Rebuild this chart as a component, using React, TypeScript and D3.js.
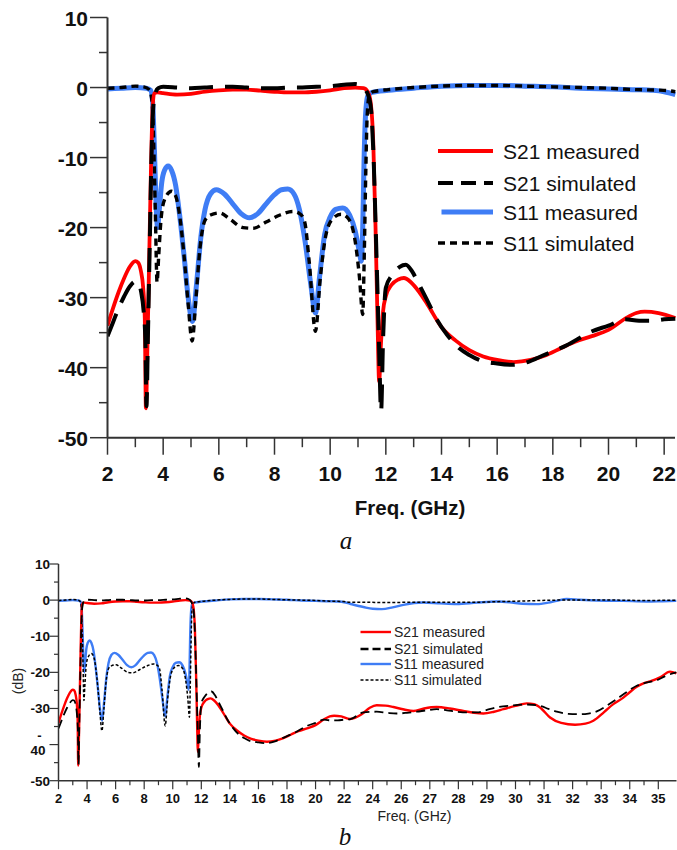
import React from "react";
import * as d3 from "d3";

type P = [number, number];

// ---------- Data (x in GHz / axis units, y in dB) ----------
const s21Measured: P[] = [[2.0,-34.0],[2.2,-31.5],[2.4,-29.2],[2.6,-27.2],[2.8,-25.6],[3.0,-24.8],[3.1,-25.0],[3.2,-26.2],[3.28,-28.5],[3.34,-33],[3.38,-45.8],[3.44,-36],[3.5,-24],[3.56,-12],[3.62,-3],[3.68,-0.8],[3.8,-0.7],[4.0,-0.8],[4.5,-1.0],[5.0,-0.9],[5.5,-0.6],[6.0,-0.4],[6.5,-0.3],[7.0,-0.3],[7.5,-0.45],[8.0,-0.6],[8.5,-0.7],[9.0,-0.7],[9.5,-0.6],[10.0,-0.4],[10.5,-0.1],[10.9,0.0],[11.2,-0.1],[11.35,-0.6],[11.45,-2],[11.55,-8],[11.63,-20],[11.7,-33],[11.76,-42],[11.82,-37],[11.9,-32],[12.0,-29.8],[12.2,-28.2],[12.45,-27.4],[12.65,-27.2],[12.9,-27.8],[13.2,-29.2],[13.5,-31],[14.0,-34.2],[14.5,-36.1],[15.0,-37.5],[15.5,-38.4],[16.0,-38.9],[16.6,-39.2],[17.2,-38.9],[17.7,-38.3],[18.3,-37.2],[18.8,-36.3],[19.4,-35.5],[20.0,-34.6],[20.6,-33.0],[21.0,-32.2],[21.3,-32.0],[21.8,-32.2],[22.4,-32.9]];
const s21MeasuredExt: P[] = [[23.23,-31.6],[23.8,-29.8],[24.28,-29.1],[24.9,-29.2],[25.45,-29.6],[26.2,-30.3],[26.85,-30.7],[27.6,-30.0],[28.48,-29.6],[29.4,-30.0],[30.35,-30.7],[31.1,-31.2],[31.75,-31.4],[32.5,-30.9],[33.15,-30.2],[34.0,-29.3],[34.79,-28.6],[35.3,-28.8],[35.8,-30.0],[36.42,-32.5],[37.2,-34.0],[38.17,-34.5],[38.9,-34.2],[39.45,-33.4],[40.2,-31.0],[40.85,-28.8],[41.55,-27.0],[42.0,-25.5],[42.49,-24.0],[43.0,-23.0],[43.42,-22.5],[44.12,-21.4],[44.82,-19.8],[45.26,-20.3]];

const s21Simulated: P[] = [[2.0,-35.5],[2.2,-33.5],[2.4,-31.5],[2.6,-29.8],[2.8,-28.4],[3.0,-27.7],[3.1,-27.8],[3.2,-29],[3.3,-32],[3.36,-36],[3.4,-45.5],[3.45,-36],[3.52,-22],[3.58,-10],[3.64,-3],[3.72,-0.8],[3.82,-0.1],[4.0,0.1],[4.5,0.0],[5.0,-0.1],[5.5,0.0],[6.0,0.1],[6.5,0.1],[7.0,0.0],[7.5,-0.1],[8.0,-0.1],[8.5,0.0],[9.0,0.0],[9.5,0.1],[10.0,0.2],[10.5,0.4],[10.9,0.5],[11.1,0.3],[11.3,-0.5],[11.45,-2.5],[11.55,-9],[11.65,-22],[11.75,-36],[11.83,-46.2],[11.9,-36],[12.0,-28.6],[12.24,-26.7],[12.5,-25.6],[12.72,-25.3],[12.95,-26.3],[13.14,-27.7],[13.5,-30.5],[13.8,-32.9],[14.2,-35.3],[14.63,-37.2],[15.0,-38.2],[15.35,-38.9],[16.0,-39.4],[16.55,-39.6],[17.1,-39.2],[17.62,-38.3],[18.5,-36.8],[19.41,-34.8],[20.0,-34.0],[20.6,-33.1],[21.1,-33.3],[21.56,-33.3],[22.0,-33.1],[22.4,-33.0]];
const s21SimulatedExt: P[] = [[23.35,-31.1],[24.28,-30.9],[25.0,-31.2],[25.68,-31.4],[26.4,-31.2],[27.08,-30.9],[27.8,-30.5],[28.48,-30.2],[29.2,-30.5],[29.88,-30.9],[30.6,-31.1],[31.28,-31.1],[32.0,-30.4],[32.68,-29.7],[33.7,-29.2],[34.79,-28.9],[35.72,-29.3],[36.3,-30.1],[36.89,-30.9],[37.7,-31.5],[38.52,-31.6],[39.1,-31.4],[39.69,-30.8],[40.4,-29.2],[41.09,-27.4],[41.8,-25.4],[42.49,-23.7],[43.2,-22.8],[43.89,-22.2],[44.5,-21.0],[45.26,-20.0]];

const s11Measured: P[] = [[2.0,-0.2],[2.5,-0.1],[3.0,0.0],[3.4,-0.1],[3.55,-0.4],[3.62,-2],[3.68,-8],[3.74,-16],[3.8,-20],[3.86,-17.5],[3.95,-13.5],[4.05,-11.8],[4.18,-11.2],[4.3,-11.8],[4.45,-14],[4.6,-18.5],[4.75,-24],[4.9,-30],[5.05,-33.4],[5.2,-28],[5.35,-21.5],[5.5,-17.5],[5.7,-15.2],[5.91,-14.6],[6.2,-15.2],[6.5,-16.6],[6.8,-18],[7.1,-18.6],[7.4,-18],[7.7,-16.6],[8.0,-15.3],[8.25,-14.6],[8.48,-14.5],[8.7,-15.2],[8.9,-17.5],[9.1,-22],[9.3,-28],[9.47,-32.2],[9.62,-27],[9.8,-21],[10.0,-18.5],[10.2,-17.4],[10.45,-17.2],[10.7,-18.2],[10.9,-20.5],[11.05,-23.5],[11.12,-24.8],[11.17,-20],[11.22,-10],[11.27,-4],[11.35,-1.2],[11.5,-0.7],[12.1,-0.4],[13.0,-0.1],[14.0,0.2],[15.0,0.3],[16.0,0.3],[17.0,0.2],[18.0,0.1],[19.0,-0.1],[20.0,-0.2],[21.0,-0.3],[21.6,-0.4],[22.0,-0.6],[22.4,-1.0]];
const s11MeasuredExt: P[] = [[23.35,-1.9],[24.0,-2.4],[24.63,-2.5],[25.4,-2.0],[26.15,-1.3],[26.9,-0.8],[27.55,-0.65],[28.7,-0.9],[29.88,-1.1],[31.3,-0.7],[32.68,-0.4],[33.6,-0.6],[34.5,-1.0],[35.49,-1.1],[36.3,-0.7],[36.89,-0.2],[37.59,0.3],[38.5,0.1],[39.69,-0.1],[41.5,-0.2],[43.2,-0.4],[44.3,-0.3],[45.26,-0.2]];

const s11Simulated: P[] = [[2.0,-0.1],[2.5,0.0],[3.0,0.2],[3.3,0.1],[3.5,-0.3],[3.6,-2],[3.66,-8],[3.72,-18],[3.78,-27.8],[3.84,-24],[3.92,-19],[4.05,-16],[4.3,-14.8],[4.45,-15.5],[4.6,-18.5],[4.75,-24],[4.9,-31],[5.04,-36.2],[5.18,-30],[5.32,-23],[5.5,-19],[5.7,-18.2],[6.03,-17.9],[6.4,-18.8],[6.87,-20.0],[7.23,-20.1],[7.7,-19.2],[8.2,-18.2],[8.66,-17.7],[8.9,-18.0],[9.08,-19.1],[9.25,-25],[9.47,-34.8],[9.65,-27],[9.85,-21],[10.1,-18.7],[10.39,-18.1],[10.65,-18.7],[10.9,-22],[11.05,-27],[11.17,-32.4],[11.22,-25],[11.28,-12],[11.33,-4],[11.4,-1.2],[11.55,-0.6],[12.1,-0.3],[13.0,0.0],[14.0,0.2],[15.0,0.3],[16.0,0.3],[17.0,0.2],[18.0,0.1],[19.0,0.0],[20.0,-0.1],[21.0,-0.3],[22.0,-0.4],[22.4,-0.6]];
const s11SimulatedExt: P[] = [[23.0,-0.6],[25.0,-0.65],[27.0,-0.6],[29.0,-0.6],[31.0,-0.6],[33.0,-0.4],[35.0,-0.2],[37.0,0.0],[39.0,0.0],[41.0,0.0],[43.0,-0.1],[45.26,0.0]];

const seriesNames = ["S21 measured", "S21 simulated", "S11 measured", "S11 simulated"];

const topXTicks = [2, 4, 6, 8, 10, 12, 14, 16, 18, 20, 22];
const topYTicks = [10, 0, -10, -20, -30, -40, -50];
const botXLabels = ["2","4","6","8","10","12","14","16","18","20","22","24","26","27","28","29","30","31","32","33","34","35"];
const botYLabels = ["10", "0", "-10", "-20", "-30", "-40", "-50"];

// ---------- Scales ----------
const topX = d3.scaleLinear().domain([2, 22.4]).range([107.5, 675.3]);
const topY = d3.scaleLinear().domain([-50, 10]).range([437.7, 17.5]);
const botX = d3.scaleLinear().domain([2, 45.26]).range([58.5, 676.3]);
const botY = d3.scaleLinear().domain([-50, 10]).range([780.7, 564]);

const RED = "#ff0000";
const BLUE = "#3f7df5";
const AX = "#333";
const FONT = "'Liberation Sans', Arial, sans-serif";

function mkLine(xs: d3.ScaleLinear<number, number>, ys: d3.ScaleLinear<number, number>) {
  return d3.line<P>().x(d => xs(d[0])).y(d => ys(d[1])).curve(d3.curveMonotoneX);
}

export default function App() {
  const lt = mkLine(topX, topY);
  const lb = mkLine(botX, botY);

  const topStyles = [
    { data: s21Measured, stroke: RED, w: 3.8, dash: undefined as string | undefined },
    { data: s21Simulated, stroke: "#000", w: 4, dash: "24 12" },
    { data: s11Measured, stroke: BLUE, w: 5, dash: undefined },
    { data: s11Simulated, stroke: "#000", w: 3.4, dash: "7 5" },
  ];
  const order = [2, 3, 0, 1];
  const botSeries = [
    { data: s21Measured.concat(s21MeasuredExt), stroke: RED, w: 2.4, dash: undefined as string | undefined },
    { data: s21Simulated.concat(s21SimulatedExt), stroke: "#000", w: 1.8, dash: "9 5" },
    { data: s11Measured.concat(s11MeasuredExt), stroke: BLUE, w: 2.4, dash: undefined },
    { data: s11Simulated.concat(s11SimulatedExt), stroke: "#000", w: 1.5, dash: "3 2" },
  ];
  const topLegendY = [151, 183, 212, 243];
  const botLegendY = [632, 649, 664, 680];

  const topMinorY = d3.range(-45, 10, 10);
  const topMinorX = d3.range(3, 22, 2);
  const botMinorY = d3.range(-45, 10, 10);
  const botMinorX = d3.range(3, 45, 2);

  return (
    <svg width={677} height={850} style={{ position: "absolute", left: 0, top: 0, background: "#fff" }}>
      <defs>
        <clipPath id="clipTop"><rect x={107} y={10} width={570} height={440} /></clipPath>
        <clipPath id="clipBot"><rect x={58} y={555} width={619} height={230} /></clipPath>
      </defs>

      {/* ===== Top chart (a) ===== */}
      <g clipPath="url(#clipTop)">
        {order.map(i => (
          <path key={i} d={lt(topStyles[i].data) || ""} fill="none" stroke={topStyles[i].stroke}
            strokeWidth={topStyles[i].w} strokeDasharray={topStyles[i].dash} strokeLinejoin="round" />
        ))}
      </g>
      <line x1={topX(2)} x2={topX(2)} y1={topY(10)} y2={topY(-50)} stroke={AX} strokeWidth={2} />
      <line x1={topX(2)} x2={675} y1={topY(-50)} y2={topY(-50)} stroke={AX} strokeWidth={2} />
      {topYTicks.map(t => (
        <g key={"ty" + t}>
          <line x1={topX(2) - 17.5} x2={topX(2)} y1={topY(t)} y2={topY(t)} stroke={AX} strokeWidth={1.5} />
          <text x={88} y={topY(t) + 8.5} textAnchor="end" fontFamily={FONT} fontWeight="bold" fontSize={21} fill="#111">{t}</text>
        </g>
      ))}
      {topMinorY.map(t => (
        <line key={"tmy" + t} x1={topX(2) - 8.5} x2={topX(2)} y1={topY(t)} y2={topY(t)} stroke={AX} strokeWidth={1.5} />
      ))}
      {topXTicks.map(t => (
        <g key={"tx" + t}>
          <line x1={topX(t)} x2={topX(t)} y1={topY(-50)} y2={topY(-50) + 17} stroke={AX} strokeWidth={1.5} />
          <text x={topX(t)} y={481} textAnchor="middle" fontFamily={FONT} fontWeight="bold" fontSize={21} fill="#111">{t}</text>
        </g>
      ))}
      {topMinorX.map(t => (
        <line key={"tmx" + t} x1={topX(t)} x2={topX(t)} y1={topY(-50)} y2={topY(-50) + 9.5} stroke={AX} strokeWidth={1.5} />
      ))}
      <text x={410} y={515} textAnchor="middle" fontFamily={FONT} fontWeight="bold" fontSize={20.5} fill="#111">Freq. (GHz)</text>
      {seriesNames.map((n, i) => (
        <g key={"tl" + n}>
          <line x1={i === 2 ? 441.5 : 438} x2={493} y1={topLegendY[i]} y2={topLegendY[i]} stroke={topStyles[i].stroke}
            strokeWidth={topStyles[i].w} strokeDasharray={i === 1 ? "15 8" : topStyles[i].dash} />
          <text x={503} y={topLegendY[i] + 7.5} fontFamily={FONT} fontSize={21} fill="#111">{n}</text>
        </g>
      ))}
      <text x={346} y={549} textAnchor="middle" fontFamily="'Liberation Serif', 'Times New Roman', serif" fontStyle="italic" fontSize={25} fill="#111">a</text>

      {/* ===== Bottom chart (b) ===== */}
      <g clipPath="url(#clipBot)">
        {order.map(i => (
          <path key={"b" + i} d={lb(botSeries[i].data) || ""} fill="none" stroke={botSeries[i].stroke}
            strokeWidth={botSeries[i].w} strokeDasharray={botSeries[i].dash} strokeLinejoin="round" />
        ))}
      </g>
      <line x1={botX(2)} x2={botX(2)} y1={botY(10)} y2={botY(-50)} stroke={AX} strokeWidth={1.5} />
      <line x1={botX(2)} x2={676.5} y1={botY(-50)} y2={botY(-50)} stroke={AX} strokeWidth={1.5} />
      {botYLabels.map((lab, i) => {
        const v = 10 - i * 10;
        return (
          <g key={"by" + lab}>
            <line x1={botX(2) - 9} x2={botX(2)} y1={botY(v)} y2={botY(v)} stroke={AX} strokeWidth={1.2} />
            {lab === "-40" ? (
              <g>
                <text x={39.5} y={botY(v) - 5} textAnchor="middle" fontFamily={FONT} fontWeight="bold" fontSize={13} fill="#111">-</text>
                <text x={45.5} y={botY(v) + 10} textAnchor="end" fontFamily={FONT} fontWeight="bold" fontSize={13.5} fill="#111">40</text>
              </g>
            ) : (
              <text x={50} y={botY(v) + 5} textAnchor="end" fontFamily={FONT} fontWeight="bold" fontSize={13.5} fill="#111">{lab}</text>
            )}
          </g>
        );
      })}
      {botMinorY.map(t => (
        <line key={"bmy" + t} x1={botX(2) - 4.5} x2={botX(2)} y1={botY(t)} y2={botY(t)} stroke={AX} strokeWidth={1.2} />
      ))}
      {botXLabels.map((lab, i) => {
        const v = 2 + 2 * i;
        return (
          <g key={"bx" + lab}>
            <line x1={botX(v)} x2={botX(v)} y1={botY(-50)} y2={botY(-50) + 8.5} stroke={AX} strokeWidth={1.2} />
            <text x={botX(v)} y={803} textAnchor="middle" fontFamily={FONT} fontWeight="bold" fontSize={13} fill="#111">{lab}</text>
          </g>
        );
      })}
      {botMinorX.map(t => (
        <line key={"bmx" + t} x1={botX(t)} x2={botX(t)} y1={botY(-50)} y2={botY(-50) + 4.5} stroke={AX} strokeWidth={1.2} />
      ))}
      <text x={414.5} y={821} textAnchor="middle" fontFamily={FONT} fontSize={14} fill="#222">Freq. (GHz)</text>
      <text transform="translate(23,681) rotate(-90)" textAnchor="middle" fontFamily={FONT} fontSize={14} fill="#222">(dB)</text>
      {seriesNames.map((n, i) => (
        <g key={"bl" + n}>
          <line x1={360.5} x2={391} y1={botLegendY[i]} y2={botLegendY[i]} stroke={botSeries[i].stroke}
            strokeWidth={i === 1 ? 2.4 : botSeries[i].w} strokeDasharray={i === 1 ? "8 4" : botSeries[i].dash} />
          <text x={394} y={botLegendY[i] + 5} fontFamily={FONT} fontSize={14} fill="#222">{n}</text>
        </g>
      ))}
      <text x={345} y={845} textAnchor="middle" fontFamily="'Liberation Serif', 'Times New Roman', serif" fontStyle="italic" fontSize={25} fill="#111">b</text>
    </svg>
  );
}
